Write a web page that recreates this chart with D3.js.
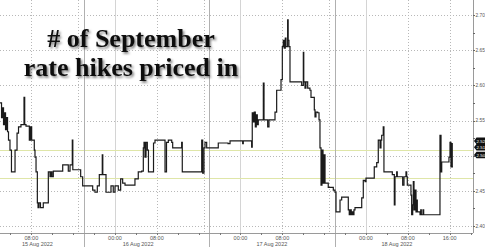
<!DOCTYPE html>
<html><head><meta charset="utf-8">
<script src="https://cdn.jsdelivr.net/npm/d3@7"></script>
<style>body{margin:0;background:#fff;overflow:hidden} svg{display:block}</style>
</head><body><svg id="c" width="485" height="247"></svg>
<script>
// ---------- data ----------
const titleLines = ["# of September", "rate hikes priced in"];
const yTicks = [2.40, 2.45, 2.50, 2.55, 2.60, 2.65, 2.70];
const yTickLabelsShown = [2.40, 2.45, 2.55, 2.60, 2.65, 2.70];
const timeTicks = ["08-15 08:00","08-16 00:00","08-16 08:00","08-17 00:00","08-17 08:00","08-18 00:00","08-18 08:00","08-18 16:00"];
const timeTickLabels = ["08:00","00:00","08:00","00:00","08:00","00:00","08:00","16:00"];
const dateLabels = ["15 Aug 2022","16 Aug 2022","17 Aug 2022","18 Aug 2022"];
const dateLabelTimes = ["08-15 09:10","08-16 04:25","08-17 06:00","08-18 05:55"];
const dottedTimes = ["08-15 08:00","08-15 17:00","08-16 08:00","08-16 17:00","08-17 08:00","08-17 17:00","08-18 08:00","08-18 16:00"];
const sessionTimes = ["08-15 18:00","08-16 18:00","08-17 18:00"];
const midnightTimes = ["08-16 00:00","08-17 00:00","08-18 00:00"];
const refLevels = [2.508, 2.468];
const tagLabels = ["2.52","2.51","2.50"];
const tagValues = [2.521, 2.512, 2.501];

const aug15 = [["02:00",2.575],["02:18",2.554],["02:29",2.568],["02:41",2.544],["02:52",2.561],["03:04",2.537],
["03:15",2.554],["03:27",2.534],["03:38",2.522],["03:55",2.508],["04:12",2.477],["04:53",2.508],["05:16",2.532],
["05:33",2.541],["06:01",2.544],["06:36",2.583],["06:44",2.544],["06:59",2.542],["07:37",2.522],["07:50",2.541],
["08:04",2.522],["08:34",2.508],["08:42",2.498],["08:54",2.477],["09:09",2.433],["09:17",2.426],["09:28",2.433],
["09:45",2.426],["10:17",2.433],["11:15",2.477],["11:34",2.470],["11:46",2.477],["11:57",2.470],["12:12",2.478],
["14:00",2.487],["15:04",2.478],["15:24",2.487],["15:50",2.522],["15:56",2.480],["17:26",2.470],["17:49",2.457],
["19:44",2.451],["20:10",2.448],["20:37",2.457],["21:00",2.473],["21:34",2.501],["21:40",2.473],["22:17",2.448],
["23:14",2.457],["23:40",2.448]];
const aug16 = [["00:00",2.457],["00:38",2.451],["01:05",2.467],["01:28",2.461],["01:55",2.458],["03:49",2.467],
["04:27",2.477],["05:06",2.478],["05:25",2.511],["05:33",2.519],["05:44",2.498],["05:56",2.519],["06:11",2.508],
["06:24",2.477],["07:22",2.518],["07:39",2.522],["09:34",2.477],["09:51",2.519],["10:12",2.522],["10:51",2.519],
["11:02",2.511],["12:45",2.519],["12:52",2.477],["16:35",2.522],["16:46",2.475],["17:01",2.511],["17:13",2.519],
["17:32",2.511],["19:45",2.518],["21:37",2.517],["22:00",2.521]];
const aug17 = [["00:25",2.517],["00:32",2.521],["02:08",2.512],["02:15",2.561],["02:27",2.548],["02:38",2.562],
["02:50",2.541],["03:01",2.558],["03:13",2.544],["03:24",2.551],["04:22",2.603],["04:30",2.551],["05:12",2.541],
["05:27",2.551],["06:36",2.562],["06:55",2.593],["07:45",2.608],["08:00",2.655],["08:11",2.664],["08:22",2.653],
["08:34",2.667],["08:42",2.655],["09:01",2.693],["09:07",2.664],["09:16",2.655],["09:28",2.605],["11:42",2.600],
["12:01",2.647],["12:06",2.605],["12:20",2.596],["12:31",2.605],["12:51",2.596],["13:17",2.593],["13:29",2.583],
["14:07",2.565],["14:15",2.555],["14:26",2.562],["14:46",2.561],["15:01",2.551],["15:12",2.511],["15:24",2.458],
["15:35",2.508],["15:47",2.461],["15:58",2.501],["16:10",2.461],["16:47",2.455],["17:45",2.451],["18:04",2.448],
["18:16",2.420],["19:02",2.437],["19:21",2.441],["20:37",2.423],["20:48",2.416],["21:00",2.423],["21:11",2.416],
["21:23",2.420],["21:34",2.416],["21:42",2.423],["21:54",2.426],["23:11",2.440],["23:29",2.465],["23:49",2.463]];
const aug18 = [["00:00",2.468],["01:35",2.484],["02:03",2.490],["02:21",2.522],["02:41",2.511],["02:52",2.522],
["03:00",2.529],["03:18",2.541],["03:26",2.477],["05:02",2.473],["05:25",2.430],["05:33",2.470],["05:52",2.477],
["05:59",2.470],["07:01",2.458],["07:16",2.470],["07:39",2.477],["07:47",2.470],["07:54",2.458],["08:36",2.444],
["08:44",2.416],["08:56",2.430],["09:03",2.463],["09:11",2.423],["09:22",2.451],["09:34",2.420],["09:42",2.437],
["09:49",2.420],["10:20",2.416],["10:28",2.423],["10:35",2.416],["10:54",2.423],["11:02",2.416],["11:17",2.416],
["14:09",2.529],["14:21",2.477],["14:29",2.491],["15:52",2.498],["16:04",2.519],["16:15",2.484],["16:21",2.517],
["16:30",2.484],["16:38",2.484]];

// ---------- layout ----------
const W = 485, H = 247;
const plotRight = 473, axisY = 233;
const parse = d3.timeParse("%Y-%m-%d %H:%M");
const P = s => parse("2022-" + s);

const x = d3.scaleTime()
  .domain([P("08-15 00:00"), P("08-19 00:00")])
  .range([-10.5, -10.5 + 96 * 5.229]);
const y = d3.scaleLinear().domain([2.40, 2.70]).range([226, 15]);

const series = [].concat(
  aug15.map(d => ({t: P("08-15 " + d[0]), v: d[1]})),
  aug16.map(d => ({t: P("08-16 " + d[0]), v: d[1]})),
  aug17.map(d => ({t: P("08-17 " + d[0]), v: d[1]})),
  aug18.map(d => ({t: P("08-18 " + d[0]), v: d[1]}))
);

const svg = d3.select("#c");
svg.append("rect").attr("width", W).attr("height", H).attr("fill", "#fff");

const defs = svg.append("defs");
defs.append("clipPath").attr("id", "clip").append("rect")
  .attr("x", 0).attr("y", 0).attr("width", plotRight).attr("height", axisY);
const f = defs.append("filter").attr("id", "shadow").attr("x", "-10%").attr("y", "-20%").attr("width", "130%").attr("height", "150%");
f.append("feDropShadow").attr("dx", 1.6).attr("dy", 1.8).attr("stdDeviation", 1.1)
  .attr("flood-color", "#000").attr("flood-opacity", 0.5);

const grid = svg.append("g").attr("clip-path", "url(#clip)");
grid.selectAll("line.hg").data(yTicks).join("line")
  .attr("x1", 0).attr("x2", plotRight)
  .attr("y1", d => Math.round(y(d)) + 0.5).attr("y2", d => Math.round(y(d)) + 0.5)
  .attr("stroke", "#b8b8b8").attr("stroke-width", 1).attr("stroke-dasharray", "1,2");
grid.selectAll("line.vd").data(dottedTimes).join("line")
  .attr("x1", d => Math.round(x(P(d))) + 0.5).attr("x2", d => Math.round(x(P(d))) + 0.5)
  .attr("y1", 0).attr("y2", axisY)
  .attr("stroke", "#b8b8b8").attr("stroke-dasharray", "1,2");
grid.selectAll("line.vm").data(midnightTimes).join("line")
  .attr("x1", d => Math.round(x(P(d))) + 0.5).attr("x2", d => Math.round(x(P(d))) + 0.5)
  .attr("y1", 0).attr("y2", axisY)
  .attr("stroke", "#d4d4d4");
grid.selectAll("line.ref").data(refLevels).join("line")
  .attr("x1", 0).attr("x2", plotRight)
  .attr("y1", d => Math.round(y(d)) + 0.5).attr("y2", d => Math.round(y(d)) + 0.5)
  .attr("stroke", "#dfe6a8").attr("stroke-width", 1);

svg.selectAll("line.sep").data(sessionTimes).join("line")
  .attr("x1", d => Math.round(x(P(d))) + 0.5).attr("x2", d => Math.round(x(P(d))) + 0.5)
  .attr("y1", 0).attr("y2", H)
  .attr("stroke", "#b0b0b0");

// title
const title = svg.append("g").attr("filter", "url(#shadow)");
title.selectAll("text").data(titleLines).join("text")
  .attr("x", 131).attr("y", (d, i) => 47 + i * 29)
  .attr("text-anchor", "middle")
  .attr("font-family", "'Liberation Serif', 'DejaVu Serif', serif")
  .attr("font-weight", "bold").attr("font-size", 26)
  .attr("fill", "#111").text(d => d);

// line
const line = d3.line().x(d => x(d.t)).y(d => y(d.v)).curve(d3.curveStepAfter);
svg.append("path").datum(series).attr("clip-path", "url(#clip)")
  .attr("d", line).attr("fill", "none").attr("stroke", "#1a1a1a").attr("stroke-width", 1.2);

// axes
const axisColor = "#9a9a9a", labelColor = "#555";
svg.append("line").attr("x1", 0).attr("x2", plotRight).attr("y1", axisY + 0.5).attr("y2", axisY + 0.5).attr("stroke", axisColor);
svg.append("line").attr("x1", plotRight + 0.5).attr("x2", plotRight + 0.5).attr("y1", 0).attr("y2", axisY).attr("stroke", axisColor);

const minor = d3.timeHour.every(4).range(P("08-15 00:00"), P("08-19 00:00"))
  .filter(t => x(t) > 0 && x(t) < plotRight);
svg.selectAll("line.xm").data(minor).join("line")
  .attr("x1", d => Math.round(x(d)) + 0.5).attr("x2", d => Math.round(x(d)) + 0.5)
  .attr("y1", axisY).attr("y2", axisY + 2).attr("stroke", "#777");

svg.selectAll("text.xt").data(timeTicks).join("text")
  .attr("x", d => x(P(d))).attr("y", 239.5)
  .attr("text-anchor", "middle").attr("font-family", "'Liberation Sans', Arial, sans-serif")
  .attr("font-size", 5.5).attr("fill", labelColor)
  .text((d, i) => timeTickLabels[i]);
svg.selectAll("text.xd").data(dateLabelTimes).join("text")
  .attr("x", d => x(P(d))).attr("y", 245.5)
  .attr("text-anchor", "middle").attr("font-family", "'Liberation Sans', Arial, sans-serif")
  .attr("font-size", 5.5).attr("fill", labelColor)
  .text((d, i) => dateLabels[i]);

const yMinor = d3.range(2.40, 2.7001, 0.025);
svg.selectAll("line.ym").data(yMinor).join("line")
  .attr("x1", plotRight).attr("x2", plotRight + 2)
  .attr("y1", d => Math.round(y(d)) + 0.5).attr("y2", d => Math.round(y(d)) + 0.5)
  .attr("stroke", "#666");
svg.selectAll("text.yt").data(yTickLabelsShown).join("text")
  .attr("x", 475.5).attr("y", d => y(d) + 1.8)
  .attr("font-family", "'Liberation Sans', Arial, sans-serif")
  .attr("font-size", 4.8).attr("fill", labelColor)
  .text(d => d.toFixed(2));

// value tags
const tags = svg.selectAll("g.tag").data(tagValues).join("g")
  .attr("transform", d => `translate(${plotRight + 1},${y(d)})`);
tags.append("path").attr("d", "M0,0 L2.5,-3.3 L11.5,-3.3 L11.5,3.3 L2.5,3.3 Z").attr("fill", "#111");
tags.append("text").attr("x", 2.6).attr("y", 1.7)
  .attr("font-family", "'Liberation Sans', Arial, sans-serif")
  .attr("font-size", 4.4).attr("fill", "#fff")
  .text((d, i) => tagLabels[i]);
</script></body></html>
